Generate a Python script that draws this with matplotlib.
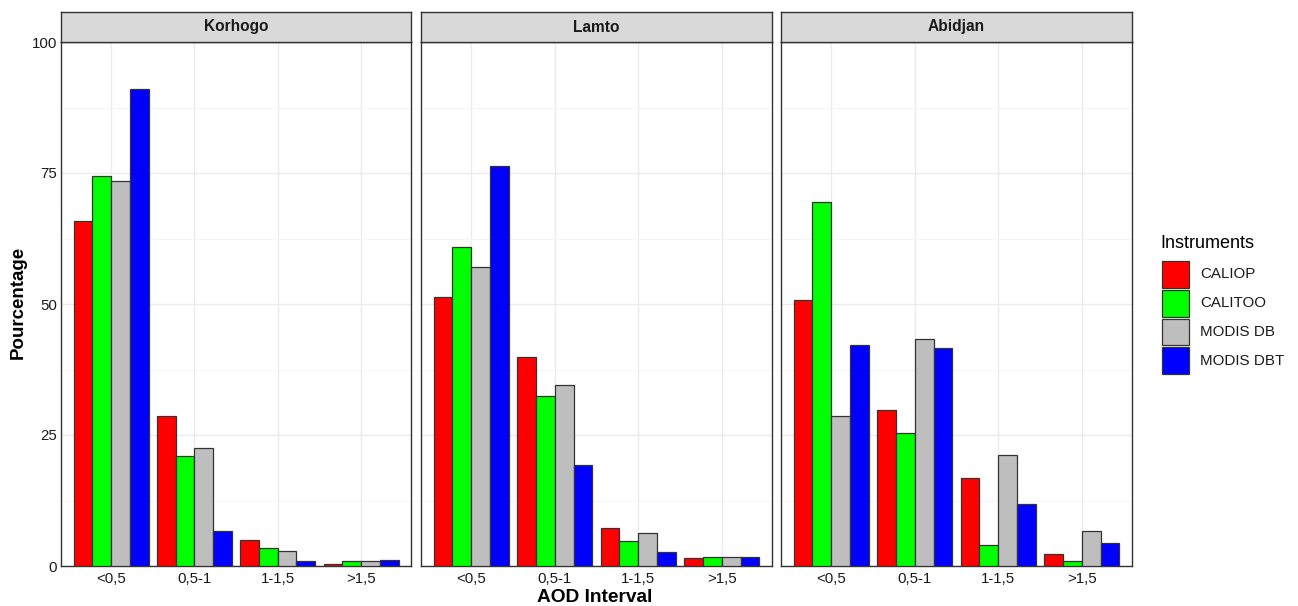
import numpy as np
import matplotlib
matplotlib.use("Agg")
import matplotlib.pyplot as plt
from matplotlib.patches import Rectangle

plt.rcParams['font.family'] = ['Liberation Sans', 'DejaVu Sans']

sites = ["Korhogo", "Lamto", "Abidjan"]
intervals = ["<0,5", "0,5-1", "1-1,5", ">1,5"]
instruments = ["CALIOP", "CALITOO", "MODIS DB", "MODIS DBT"]
colors = ["#FF0000", "#00FF00", "#BEBEBE", "#0000FF"]

# percentage per site: rows = instruments, columns = AOD intervals
korhogo = [
    [65.8, 28.7, 4.9, 0.4],
    [74.4, 21.0, 3.4, 1.0],
    [73.5, 22.5, 2.8, 1.0],
    [91.1, 6.6, 1.0, 1.2],
]
lamto = [
    [51.3, 39.8, 7.3, 1.5],
    [60.8, 32.4, 4.8, 1.8],
    [57.0, 34.6, 6.3, 1.8],
    [76.3, 19.2, 2.7, 1.7],
]
abidjan = [
    [50.8, 29.8, 16.8, 2.3],
    [69.5, 25.4, 4.0, 1.0],
    [28.7, 43.4, 21.2, 6.7],
    [42.1, 41.6, 11.9, 4.4],
]
site_values = [korhogo, lamto, abidjan]

W, H = 1298, 606
fig = plt.figure(figsize=(W / 100, H / 100), dpi=100)
fig.patch.set_facecolor("white")


def px_axes(x0, y0, x1, y1):
    return fig.add_axes([x0 / W, 1 - y1 / H, (x1 - x0) / W, (y1 - y0) / H])


panel_x = [(61, 411), (421, 772), (781, 1132)]
panel_top, panel_bot = 42, 566
strip_top = 12

x = np.arange(1, len(intervals) + 1)
n = len(instruments)
bw = 0.9 / n

for i, (site, vals) in enumerate(zip(sites, site_values)):
    x0, x1 = panel_x[i]
    ax = px_axes(x0, panel_top, x1, panel_bot)
    ax.set_facecolor("white")
    ax.set_xlim(0.4, 4.6)
    ax.set_ylim(0, 100)
    ax.set_yticks([0, 25, 50, 75, 100])
    ax.set_yticks([12.5, 37.5, 62.5, 87.5], minor=True)
    ax.set_xticks(x)
    ax.set_xticklabels(intervals, fontsize=10.8, color="#1A1A1A")
    ax.grid(True, which="major", color="#EBEBEB", lw=1.0)
    ax.grid(True, which="minor", axis="y", color="#F4F4F4", lw=0.6)
    ax.set_axisbelow(True)
    ax.tick_params(axis="both", which="both", length=0, pad=3)
    ax.tick_params(axis="x", pad=4)
    if i == 0:
        ax.set_yticklabels(["0", "25", "50", "75", "100"], fontsize=10.8, color="#1A1A1A")
    else:
        ax.set_yticklabels([])
    for sp in ax.spines.values():
        sp.set_color("#333333")
        sp.set_linewidth(1.0)
    for k in range(n):
        ax.bar(x - 0.45 + bw * (k + 0.5), vals[k], width=bw, color=colors[k],
               edgecolor="#333333", linewidth=0.9, zorder=3)

    # facet strip
    sax = px_axes(x0, strip_top, x1, panel_top)
    sax.set_facecolor("#D9D9D9")
    sax.set_xticks([])
    sax.set_yticks([])
    for sp in sax.spines.values():
        sp.set_color("#333333")
        sp.set_linewidth(1.0)
    sax.text(0.5, 0.5, site, ha="center", va="center", fontsize=11.2,
             fontweight="bold", color="#1A1A1A", transform=sax.transAxes)

fig.text(18 / W, 1 - 302 / H, "Pourcentage", rotation=90, ha="center", va="center",
         fontsize=13.5, fontweight="bold")
fig.text(595 / W, 1 - 598 / H, "AOD Interval", ha="center", va="center",
         fontsize=13.8, fontweight="bold")

# legend
fig.text(1160 / W, 1 - 243 / H, "Instruments", ha="left", va="center", fontsize=13)
key_top = 260
key_h = 28.8
for k, name in enumerate(instruments):
    y0 = key_top + k * key_h
    fig.patches.append(Rectangle(((1162) / W, 1 - (y0 + key_h - 1) / H),
                                 27 / W, (key_h - 2) / H, transform=fig.transFigure,
                                 facecolor=colors[k], edgecolor="#333333", lw=0.9))
    fig.text(1200 / W, 1 - (y0 + key_h / 2) / H, name, ha="left", va="center",
             fontsize=10.9, color="#1A1A1A")

fig.savefig("out.png", dpi=100)
